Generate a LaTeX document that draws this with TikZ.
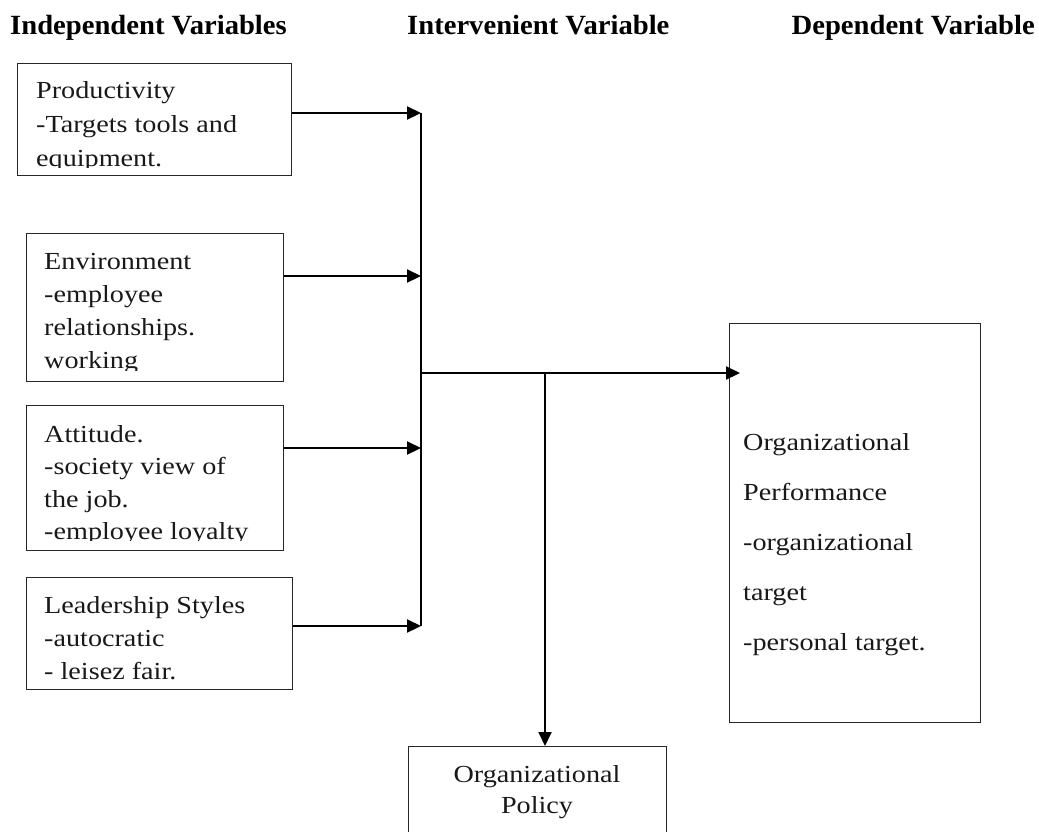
\documentclass[tikz,border=0pt]{standalone}
\usepackage{fontspec}
\setmainfont{Liberation Serif}[FakeStretch=1.15]
\newfontfamily\hdfont{Liberation Serif}[FakeStretch=1.03]
\usetikzlibrary{arrows.meta}
\begin{document}
\begin{tikzpicture}[x=1pt,y=-1pt,
  box/.style={draw=black!85, line width=1.3pt, rectangle, inner sep=0pt, anchor=north west},
  txt/.style={inner sep=0pt, align=left, font=\fontsize{24.5}{33}\selectfont, anchor=base west, text=black!90},
  hd/.style={inner sep=0pt, font=\hdfont\bfseries\fontsize{27.8}{30}\selectfont, text=black},
  arr/.style={line width=2.2pt, -{Triangle[length=14pt,width=13pt]}},
  bus/.style={line width=1.5pt}]
\fill[white] (0,0) rectangle (1039,831);
\useasboundingbox (0,0) rectangle (1039,831);
\clip (0,0) rectangle (1039,831);

% headers
\node[hd, anchor=base west] (h1) at (10,34) {Independent Variables};
\node[hd, anchor=base west] (h2) at (407,34) {Intervenient Variable};
\node[hd, anchor=base east] (h3) at (1035,34) {Dependent Variable};

% boxes
\node[box, minimum width=274pt, minimum height=112pt] (b1) at (17,63) {};
\node[box, minimum width=257pt, minimum height=148pt] (b2) at (26,233) {};
\node[box, minimum width=257pt, minimum height=145pt] (b3) at (26,405) {};
\node[box, minimum width=266pt, minimum height=112pt] (b4) at (26,577) {};
\node[box, minimum width=251pt, minimum height=399pt] (rb) at (729,323) {};
\node[box, minimum width=258pt, minimum height=124pt] (pb) at (408,746) {};

% texts (anchor = baseline of the last line)
\begin{scope}
\clip (b1.north west) rectangle (b1.east |- 0,167);
\node[txt, font=\fontsize{24.5}{34}\selectfont] (t1) at (36,166) {Productivity\\-Targets tools and\\equipment.};
\end{scope}
\begin{scope}
\clip (b2.north west) rectangle (b2.east |- 0,370);
\node[txt] (t2) at (44,368) {Environment\\-employee\\relationships.\\working};
\end{scope}
\begin{scope}
\clip (b3.north west) rectangle (b3.east |- 0,540);
\node[txt, font=\fontsize{24.5}{32.5}\selectfont] (t3) at (44,539.5) {Attitude.\\-society view of\\the job.\\-employee loyalty};
\end{scope}
\node[txt] (t4) at (44,679) {Leadership Styles\\-autocratic\\- leisez fair.};
\node[txt, font=\fontsize{24.5}{50}\selectfont] (tr) at (743,650) {Organizational\\Performance\\-organizational\\target\\-personal target.};
\node[inner sep=0pt, align=center, font=\fontsize{24.5}{31}\selectfont, anchor=base, text=black!90] (tp) at (537,813) {Organizational\\Policy};

% connectors
\coordinate (j1) at (421,113);
\coordinate (j2) at (421,276);
\coordinate (j3) at (421,448);
\coordinate (j4) at (421,626);
\coordinate (m) at (421,373);
\coordinate (br) at (545,373);
\draw[bus] (j1) -- (j4);
\draw[arr] (b1.east |- j1) -- (j1);
\draw[arr] (b2.east |- j2) -- (j2);
\draw[arr] (b3.east |- j3) -- (j3);
\draw[arr] (b4.east |- j4) -- (j4);
\draw[arr] (m) -- ([xshift=11pt]rb.west |- m);
\draw[arr, line width=1.8pt] (br) -- (br |- pb.north);
\end{tikzpicture}
\end{document}
